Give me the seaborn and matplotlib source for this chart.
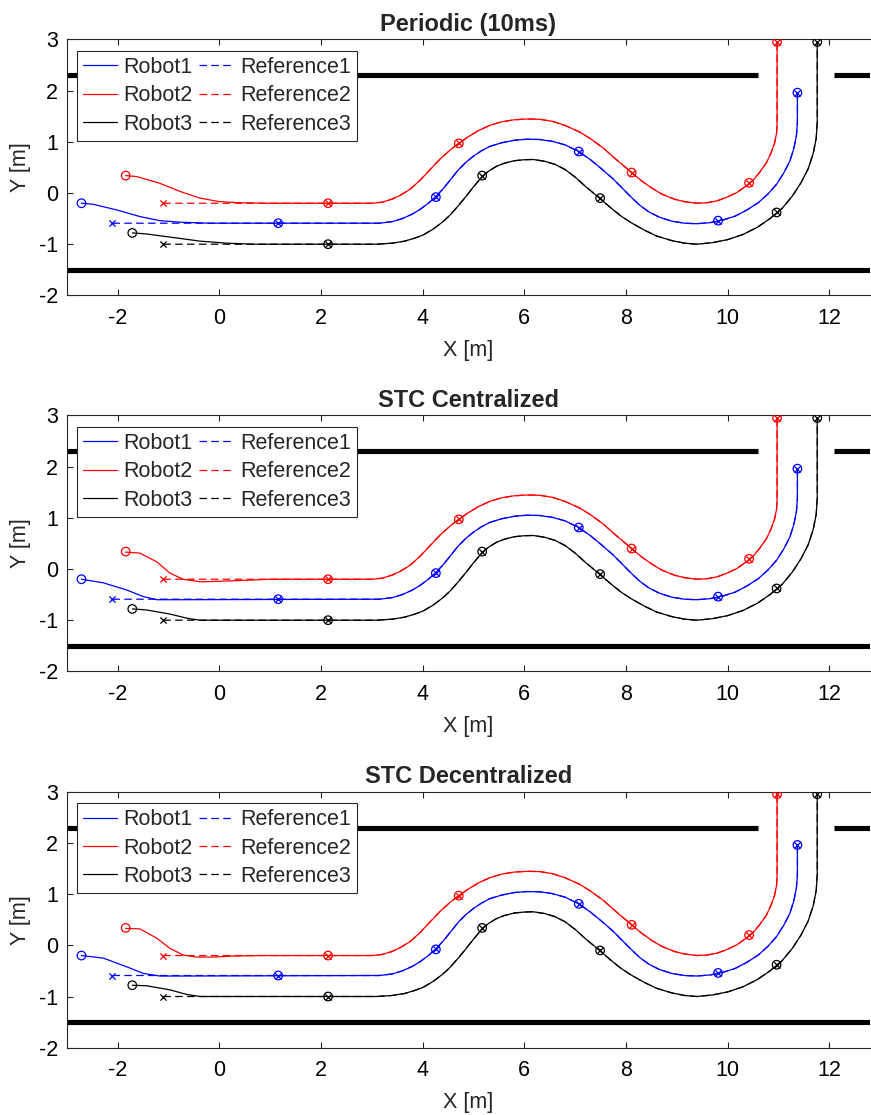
import matplotlib
matplotlib.use("Agg")
import matplotlib.pyplot as plt
import seaborn as sns

# ---------------- data ----------------
titles = ["Periodic (10ms)", "STC Centralized", "STC Decentralized"]
robot_names = ["Robot1", "Robot2", "Robot3"]
ref_names = ["Reference1", "Reference2", "Reference3"]
colors = ["#0000ff", "#ff0000", "#000000"]

# reference paths
ref1_x = [-2.10, 3.15, 3.40, 3.60, 3.80, 3.95, 4.10, 4.26, 4.40, 4.54, 4.70, 4.85, 5.00, 5.15, 5.32,
          5.55, 5.80, 6.05, 6.30, 6.55, 6.80, 7.07, 7.30, 7.52, 7.74, 7.95, 8.10, 8.27, 8.45, 8.65,
          8.90, 9.15, 9.39, 9.65, 9.90, 10.15, 10.38, 10.60, 10.79, 10.96, 11.10, 11.22, 11.30,
          11.35, 11.37, 11.37]
ref1_y = [-0.59, -0.59, -0.56, -0.50, -0.41, -0.32, -0.21, -0.07, 0.08, 0.25, 0.45, 0.60, 0.72, 0.82, 0.91,
          0.98, 1.03, 1.05, 1.045, 1.01, 0.94, 0.81, 0.65, 0.47, 0.28, 0.07, -0.08, -0.24, -0.37, -0.47,
          -0.55, -0.59, -0.60, -0.58, -0.53, -0.45, -0.33, -0.19, -0.02, 0.17, 0.39, 0.62, 0.87,
          1.12, 1.38, 1.96]

ref2_x = [-1.10, 3.00, 3.20, 3.40, 3.55, 3.75, 3.95, 4.14, 4.34, 4.54, 4.71, 4.90, 5.10, 5.32, 5.55,
          5.80, 6.05, 6.30, 6.55, 6.80, 7.09, 7.30, 7.55, 7.80, 8.11, 8.30, 8.50, 8.70, 8.95, 9.15,
          9.39, 9.60, 9.80, 9.99, 10.18, 10.35, 10.51, 10.64, 10.76, 10.85, 10.92, 10.96, 10.97, 10.97]
ref2_y = [-0.20, -0.20, -0.18, -0.12, -0.05, 0.07, 0.25, 0.45, 0.66, 0.84, 0.97, 1.10, 1.22, 1.32, 1.39,
          1.43, 1.445, 1.44, 1.40, 1.32, 1.19, 1.06, 0.88, 0.66, 0.40, 0.24, 0.10, -0.02, -0.12, -0.17,
          -0.20, -0.19, -0.15, -0.08, 0.01, 0.13, 0.26, 0.42, 0.59, 0.78, 0.97, 1.17, 1.38, 2.95]

ref3_x = [-1.10, 3.10, 3.40, 3.65, 3.85, 4.01, 4.20, 4.40, 4.54, 4.70, 4.85, 5.00, 5.17, 5.30, 5.45,
          5.60, 5.80, 6.00, 6.17, 6.40, 6.60, 6.80, 7.00, 7.20, 7.49, 7.70, 7.90, 8.10, 8.35, 8.60,
          8.90, 9.15, 9.39, 9.70, 10.00, 10.30, 10.58, 10.83, 11.07, 11.27, 11.44, 11.58, 11.68,
          11.74, 11.76, 11.76]
ref3_y = [-1.00, -1.00, -0.98, -0.94, -0.88, -0.82, -0.71, -0.56, -0.43, -0.25, -0.07, 0.12, 0.32, 0.43, 0.52,
          0.58, 0.63, 0.65, 0.655, 0.62, 0.56, 0.46, 0.31, 0.13, -0.11, -0.29, -0.45, -0.58, -0.72, -0.84,
          -0.93, -0.98, -1.00, -0.97, -0.91, -0.81, -0.67, -0.50, -0.30, -0.06, 0.20, 0.47, 0.77,
          1.07, 1.38, 2.95]

# robot start transients, one set per subplot (after these the robot follows its reference)
rob1_start = [
    ([-2.71, -2.48, -2.02, -1.56, -1.17, -0.77, -0.18], [-0.20, -0.22, -0.33, -0.46, -0.54, -0.57, -0.59]),
    ([-2.71, -2.28, -1.82, -1.49, -1.23, -0.84], [-0.20, -0.27, -0.41, -0.54, -0.60, -0.60]),
    ([-2.71, -2.28, -1.82, -1.49, -1.17, -0.80], [-0.20, -0.25, -0.42, -0.55, -0.60, -0.60]),
]
rob2_start = [
    ([-1.84, -1.62, -1.17, -0.77, -0.38, 0.01, 0.41, 0.90], [0.34, 0.32, 0.19, 0.03, -0.10, -0.17, -0.19, -0.20]),
    ([-1.84, -1.56, -1.23, -0.97, -0.71, -0.38, 0.01, 0.53, 1.00], [0.33, 0.31, 0.14, -0.08, -0.20, -0.25, -0.24, -0.22, -0.20]),
    ([-1.84, -1.56, -1.23, -0.97, -0.71, -0.45, -0.12, 0.28, 0.80], [0.33, 0.32, 0.14, -0.06, -0.19, -0.23, -0.23, -0.21, -0.20]),
]
rob3_start = [
    ([-1.71, -1.43, -0.90, -0.38, 0.15, 0.67], [-0.78, -0.80, -0.87, -0.94, -0.98, -1.00]),
    ([-1.71, -1.43, -0.97, -0.64, -0.38], [-0.78, -0.80, -0.88, -0.96, -1.00]),
    ([-1.71, -1.43, -0.97, -0.64, -0.38], [-0.78, -0.79, -0.87, -0.96, -1.00]),
]

# sample markers: reference (x) and robot (o)
ref1_mk_x = [-2.10, 1.16, 4.26, 7.07, 9.81, 11.37]
ref1_mk_y = [-0.59, -0.59, -0.08, 0.81, -0.54, 1.96]
ref2_mk_x = [-1.10, 2.14, 4.71, 8.11, 10.42, 10.97]
ref2_mk_y = [-0.20, -0.20, 0.97, 0.40, 0.20, 2.95]
ref3_mk_x = [-1.10, 2.14, 5.17, 7.49, 10.96, 11.76]
ref3_mk_y = [-1.00, -1.00, 0.34, -0.10, -0.38, 2.95]

rob1_mk_x = [-2.71, 1.16, 4.26, 7.07, 9.81, 11.37]
rob1_mk_y = [-0.20, -0.59, -0.08, 0.81, -0.54, 1.96]
rob2_mk_x = [-1.84, 2.14, 4.71, 8.11, 10.42, 10.97]
rob2_mk_y = [0.34, -0.20, 0.97, 0.40, 0.20, 2.95]
rob3_mk_x = [-1.71, 2.14, 5.17, 7.49, 10.96, 11.76]
rob3_mk_y = [-0.78, -1.00, 0.34, -0.10, -0.38, 2.95]

# walls
wall_top_left_x = [-3.0, 10.60]
wall_top_right_x = [12.09, 13.0]
wall_top_y = 2.3
wall_bottom_x = [-3.0, 13.0]
wall_bottom_y = -1.5

x_ticks = [-2, 0, 2, 4, 6, 8, 10, 12]
y_ticks = [-2, -1, 0, 1, 2, 3]

refs = [(ref1_x, ref1_y), (ref2_x, ref2_y), (ref3_x, ref3_y)]
starts = [rob1_start, rob2_start, rob3_start]
ref_mks = [(ref1_mk_x, ref1_mk_y), (ref2_mk_x, ref2_mk_y), (ref3_mk_x, ref3_mk_y)]
rob_mks = [(rob1_mk_x, rob1_mk_y), (rob2_mk_x, rob2_mk_y), (rob3_mk_x, rob3_mk_y)]

# ---------------- style ----------------
sns.set_style("ticks")
plt.rcParams["font.family"] = ["Liberation Sans", "DejaVu Sans"]
FS = 15.5
AXC = "#262626"

fig = plt.figure(figsize=(8.71, 11.15), dpi=100)
W = 871.0
H = 1115.0
left = 66.7 / W
width = (15.8 * 50.85) / W
tops = [39.4, 415.4, 791.7]
ax_h = 256.0

for k in range(3):
    bottom = 1 - (tops[k] + ax_h) / H
    ax = fig.add_axes([left, bottom, width, ax_h / H])

    # walls
    for wx in (wall_top_left_x, wall_top_right_x):
        sns.lineplot(x=wx, y=[wall_top_y] * len(wx), ax=ax, color="black", lw=3.7,
                     sort=False, estimator=None, solid_capstyle="butt")
    sns.lineplot(x=wall_bottom_x, y=[wall_bottom_y] * len(wall_bottom_x), ax=ax, color="black",
                 lw=3.7, sort=False, estimator=None, solid_capstyle="butt")

    rob_handles = []
    ref_handles = []
    for i in range(3):
        rx, ry = refs[i]
        sx, sy = starts[i][k]
        # robot path: transient then following the reference
        px = list(sx) + [v for v in rx if v > sx[-1]]
        py = list(sy) + [ry[j] for j, v in enumerate(rx) if v > sx[-1]]
        sns.lineplot(x=px, y=py, ax=ax, color=colors[i], lw=0.9, sort=False, estimator=None)
        rob_handles.append(ax.lines[-1])
        sns.lineplot(x=rx, y=ry, ax=ax, color=colors[i], lw=0.9, sort=False, estimator=None,
                     linestyle=(0, (6.0, 3.5)))
        ref_handles.append(ax.lines[-1])
        mx, my = rob_mks[i]
        sns.scatterplot(x=mx, y=my, ax=ax, marker="o", s=38, facecolor="none",
                        edgecolor=colors[i], linewidth=0.9, zorder=4)
        qx, qy = ref_mks[i]
        sns.scatterplot(x=qx, y=qy, ax=ax, marker="x", s=20, color=colors[i],
                        linewidth=0.9, zorder=4)

    ax.set_xlim(-3, 12.8)
    ax.set_ylim(-2, 3)
    ax.set_xticks(x_ticks)
    ax.set_yticks(y_ticks)
    ax.set_xticklabels([str(v) for v in x_ticks])
    ax.set_yticklabels([str(v) for v in y_ticks])
    ax.tick_params(direction="in", length=4, width=0.8, colors=AXC, labelsize=FS,
                   top=True, right=False, labelcolor="black")
    ax.tick_params(axis="x", pad=9)
    ax.tick_params(axis="y", pad=6)
    for s in ["left", "bottom", "top"]:
        ax.spines[s].set_visible(True)
        ax.spines[s].set_color(AXC)
        ax.spines[s].set_linewidth(0.8)
    ax.spines["right"].set_visible(False)
    ax.set_xlabel("X [m]", fontsize=FS, labelpad=8)
    ax.set_ylabel("Y [m]", fontsize=FS, labelpad=6)
    ax.set_title(titles[k], fontsize=FS * 1.1, fontweight="bold", pad=6)

    leg = ax.legend(handles=rob_handles + ref_handles, labels=robot_names + ref_names, ncol=2,
                    loc="upper left", bbox_to_anchor=(0.0124, 0.955), borderaxespad=0,
                    frameon=True, fancybox=False, framealpha=1, edgecolor=AXC,
                    fontsize=FS, handlelength=1.6, handletextpad=0.3, columnspacing=0.3,
                    labelspacing=0.34, borderpad=0.28)
    leg.get_frame().set_linewidth(0.8)
    leg.set_zorder(10)

fig.savefig("out.png", dpi=100)
